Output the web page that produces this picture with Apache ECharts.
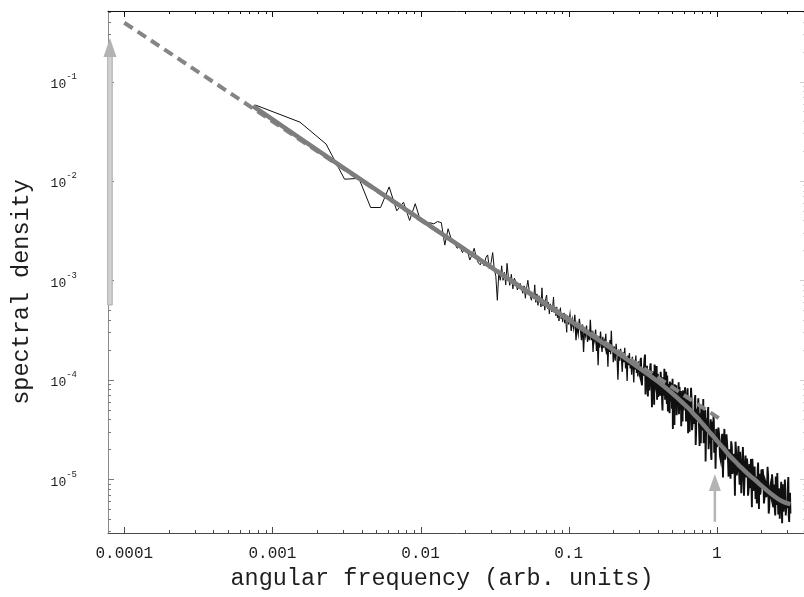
<!DOCTYPE html>
<html>
<head>
<meta charset="utf-8">
<script src="https://cdn.jsdelivr.net/npm/echarts@6/dist/echarts.min.js"></script>
<style>
  html, body { margin: 0; padding: 0; background: #fff; }
  #chart { width: 804px; height: 597px; }
</style>
</head>
<body>
<div id="chart"></div>
<script>
// Periodogram: angular frequency vs spectral density, log-log.

// Axis ticks and labels
const xMajorTicks = [0.0001, 0.001, 0.01, 0.1, 1];
const xTickLabels = ['0.0001', '0.001', '0.01', '0.1', '1'];
const xMinorTicks = [
  0.0002, 0.0003, 0.0004, 0.0005, 0.0006, 0.0007, 0.0008, 0.0009,
  0.002, 0.003, 0.004, 0.005, 0.006, 0.007, 0.008, 0.009,
  0.02, 0.03, 0.04, 0.05, 0.06, 0.07, 0.08, 0.09,
  0.2, 0.3, 0.4, 0.5, 0.6, 0.7, 0.8, 0.9,
  2, 3
];
const yMajorTicks = [0.1, 0.01, 0.001, 0.0001, 0.00001];
const yTickExponents = ['-1', '-2', '-3', '-4', '-5'];
const yMinorTicks = [
  0.5, 0.4, 0.3, 0.2,
  0.09, 0.08, 0.07, 0.06, 0.05, 0.04, 0.03, 0.02,
  0.009, 0.008, 0.007, 0.006, 0.005, 0.004, 0.003, 0.002,
  0.0009, 0.0008, 0.0007, 0.0006, 0.0005, 0.0004, 0.0003, 0.0002,
  0.00009, 0.00008, 0.00007, 0.00006, 0.00005, 0.00004, 0.00003, 0.00002,
  0.000009, 0.000008, 0.000007, 0.000006, 0.000005, 0.000004, 0.000003
];
const xRange = [7.76e-5, 4];
const yRange = [2.87e-6, 0.512];

// Measured periodogram [omega, density]: lowest bins
const spectrumLow = [
  [0.000767,0.058],[0.001534,0.039],[0.002301,0.0235],[0.003068,0.0104],[0.003835,0.0106],
  [0.004602,0.0054],[0.005369,0.0054],[0.006136,0.0087],[0.006903,0.0050],[0.00767,0.0061],
  [0.008437,0.0040],[0.009204,0.0059],[0.009971,0.0040],[0.010738,0.0037],[0.011505,0.0038],
  [0.012272,0.0037],[0.013039,0.0039],[0.013806,0.0038],[0.014573,0.00226],[0.01534,0.0033],
  [0.016107,0.0026],[0.016874,0.0024],[0.017641,0.0021],[0.018408,0.0022],[0.019175,0.0019],
  [0.019942,0.0021],[0.020709,0.0020],[0.021476,0.0016],[0.022243,0.0018],[0.02301,0.0021],
  [0.023777,0.0017],[0.024544,0.0015],[0.025311,0.00143],[0.026078,0.0016],[0.026845,0.0014],
  [0.027612,0.0017],[0.028379,0.0018],[0.029146,0.0013],[0.029913,0.0015],[0.03068,0.0019],
  [0.031447,0.0013],[0.032214,0.0011],[0.032981,0.00063],[0.033748,0.0012],[0.034515,0.0010],
  [0.035282,0.0014],[0.036049,0.0010],[0.036816,0.0012],[0.037583,0.0009],[0.03835,0.00148],
  [0.039117,0.0011]
];

// Measured periodogram: middle band
const spectrumMid = [
  [0.040,8.9e-4],[0.041,1.15e-3],[0.042,8.2e-4],[0.043,1.05e-3],[0.044,9.6e-4],[0.045,8.0e-4],
  [0.046,7.7e-4],[0.047,9.3e-4],[0.048,9.4e-4],[0.049,7.4e-4],[0.050,8.8e-4],[0.051,6.6e-4],
  [0.052,8.4e-4],[0.053,1.0e-3],[0.054,8.1e-4],[0.055,7.0e-4],[0.056,6.3e-4],[0.057,7.6e-4],
  [0.058,6.5e-4],[0.059,9.0e-4],[0.060,6.0e-4],[0.061,7.3e-4],[0.062,5.6e-4],[0.063,7.0e-4],
  [0.064,6.6e-4],[0.065,5.4e-4],[0.066,8.4e-4],[0.067,5.5e-4],[0.068,6.3e-4],[0.069,5.0e-4],
  [0.070,6.6e-4],[0.071,7.1e-4],[0.072,5.2e-4],[0.073,6.0e-4],[0.074,4.6e-4],[0.075,5.8e-4],
  [0.076,5.6e-4],[0.077,4.8e-4],[0.078,5.5e-4],[0.079,6.8e-4],[0.080,4.7e-4],[0.081,5.4e-4],
  [0.082,4.4e-4],[0.083,5.4e-4],[0.084,4.2e-4],[0.085,5.0e-4],[0.086,3.9e-4],[0.087,4.9e-4],
  [0.088,5.3e-4],[0.089,4.1e-4],[0.090,4.6e-4],[0.091,3.8e-4],[0.092,4.3e-4],[0.093,4.7e-4],
  [0.094,3.7e-4],[0.095,4.5e-4],[0.096,3.6e-4],[0.097,3.0e-4],[0.098,4.4e-4],[0.099,4.0e-4],
  [0.100,3.6e-4],
  [0.102,4.5e-4],[0.104,3.1e-4],[0.106,4.0e-4],[0.108,3.3e-4],[0.110,4.5e-4],[0.112,2.5e-4],
  [0.114,3.5e-4],[0.116,2.9e-4],[0.118,4.1e-4],[0.120,3.2e-4],[0.122,2.5e-4],[0.124,3.6e-4],
  [0.126,1.9e-4],[0.128,3.3e-4],[0.130,2.8e-4],[0.132,3.5e-4],[0.134,2.4e-4],[0.136,2.9e-4],
  [0.138,2.5e-4],[0.140,4.0e-4],[0.142,2.5e-4],[0.144,3.1e-4],[0.146,1.9e-4],[0.148,2.8e-4],
  [0.150,2.5e-4],[0.152,3.2e-4],[0.154,1.95e-4],[0.156,2.6e-4],[0.158,1.4e-4],[0.160,2.75e-4],
  [0.162,2.1e-4],[0.164,3.05e-4],[0.166,2.3e-4],[0.168,1.9e-4],[0.170,2.7e-4],[0.172,2.1e-4],
  [0.174,2.4e-4],[0.176,2.15e-4],[0.178,2.9e-4],[0.180,1.8e-4],[0.182,2.2e-4],[0.184,1.35e-4],
  [0.186,2.35e-4],[0.188,1.9e-4],[0.190,2.5e-4],[0.192,1.8e-4],[0.194,3.1e-4],[0.196,1.95e-4],
  [0.198,2.2e-4],[0.200,1.5e-4],
  [0.203,2.15e-4],[0.206,1.55e-4],[0.209,2.3e-4],[0.212,1.7e-4],[0.215,1.0e-4],[0.218,1.9e-4],
  [0.221,1.55e-4],[0.224,2.05e-4],[0.227,1.65e-4],[0.230,1.2e-4],[0.233,1.9e-4],[0.236,1.5e-4],
  [0.239,2.1e-4],[0.242,1.3e-4],[0.245,1.6e-4],[0.248,9.7e-5],[0.251,1.75e-4],[0.254,1.4e-4],
  [0.257,1.85e-4],[0.260,1.3e-4],[0.263,1.6e-4],[0.266,1.12e-4],[0.269,1.7e-4],[0.272,1.4e-4],
  [0.275,9.4e-5],[0.278,1.57e-4],[0.281,1.27e-4],[0.284,1.75e-4],[0.287,1.17e-4],[0.290,1.36e-4],
  [0.293,1.08e-4],[0.296,1.53e-4],[0.299,1.18e-4]
];

// Measured periodogram: upper band
const spectrumHigh = [
  [0.305,1.55e-4],[0.310,9.5e-5],[0.315,1.3e-4],[0.320,1.1e-4],[0.325,1.62e-4],[0.330,7.1e-5],
  [0.335,1.28e-4],[0.340,9.7e-5],[0.345,1.13e-4],[0.350,7.8e-5],[0.355,1.36e-4],[0.360,1.03e-4],
  [0.365,5.3e-5],[0.370,1.2e-4],[0.375,8.2e-5],[0.380,1.42e-4],[0.385,9.0e-5],[0.390,1.04e-4],
  [0.395,6.3e-5],[0.400,1.15e-4],[0.405,8.1e-5],[0.410,9.4e-5],[0.415,6.9e-5],[0.420,1.18e-4],
  [0.425,8.6e-5],[0.430,4.9e-5],[0.435,9.6e-5],[0.440,6.9e-5],[0.445,1.02e-4],[0.450,7.6e-5],
  [0.455,1.2e-4],[0.460,5.7e-5],[0.465,8.1e-5],[0.470,6.8e-5],[0.475,9.0e-5],[0.480,4.6e-5],
  [0.485,8.0e-5],[0.490,6.75e-5],[0.495,9.3e-5],[0.500,5.5e-5],[0.505,3.2e-5],[0.510,7.8e-5],
  [0.515,6.7e-5],[0.520,9.0e-5],[0.525,5.5e-5],[0.530,6.8e-5],[0.535,4.4e-5],[0.540,7.9e-5],
  [0.545,5.9e-5],[0.550,6.8e-5],[0.555,4.5e-5],[0.560,8.5e-5],[0.565,5.3e-5],[0.570,6.8e-5],
  [0.575,3.4e-5],[0.580,6.0e-5],[0.585,4.7e-5],[0.590,7.3e-5],[0.595,5.2e-5],[0.600,6.6e-5],
  [0.61,8.4e-5],[0.62,3.8e-5],[0.63,5.9e-5],[0.64,2.9e-5],[0.65,6.6e-5],[0.66,4.5e-5],
  [0.67,8.3e-5],[0.68,3.1e-5],[0.69,4.6e-5],[0.70,3.6e-5],[0.71,6.4e-5],[0.72,2.2e-5],
  [0.73,5.1e-5],[0.74,3.9e-5],[0.75,6.5e-5],[0.76,3.0e-5],[0.77,4.1e-5],[0.78,2.3e-5],
  [0.79,5.0e-5],[0.80,3.1e-5],[0.81,6.4e-5],[0.82,2.4e-5],[0.83,3.9e-5],[0.84,1.5e-5],
  [0.85,4.1e-5],[0.86,2.9e-5],[0.87,4.8e-5],[0.88,2.0e-5],[0.89,3.0e-5],[0.90,2.3e-5],
  [0.91,4.0e-5],[0.92,1.56e-5],[0.93,3.3e-5],[0.94,2.6e-5],[0.95,4.4e-5],[0.96,1.84e-5],
  [0.97,2.8e-5],[0.98,1.27e-5],[0.99,3.2e-5],[1.00,2.1e-5],
  [1.025,3.3e-5],[1.050,1.7e-5],[1.075,2.4e-5],[1.100,1.04e-5],[1.125,3.2e-5],[1.150,1.73e-5],
  [1.175,2.2e-5],[1.200,1.06e-5],[1.225,1.71e-5],[1.250,2.4e-5],[1.275,1.13e-5],[1.300,1.8e-5],
  [1.325,6.8e-6],[1.350,1.91e-5],[1.375,1.22e-5],[1.400,2.15e-5],[1.425,8.8e-6],[1.450,1.39e-5],
  [1.475,1.03e-5],[1.500,2.1e-5],[1.525,6.8e-6],[1.550,1.44e-5],[1.575,1.12e-5],[1.600,1.61e-5],
  [1.625,6.8e-6],[1.650,1.21e-5],[1.675,8.1e-6],[1.700,1.59e-5],[1.725,5.2e-6],[1.750,1.28e-5],
  [1.775,9.0e-6],[1.800,1.34e-5],[1.825,6.3e-6],[1.850,9.6e-6],[1.875,7.5e-6],[1.900,1.47e-5],
  [1.925,5.0e-6],[1.950,1.02e-5],[1.975,7.4e-6],[2.000,1.25e-5],
  [2.04,1.26e-5],[2.08,5.7e-6],[2.12,9.6e-6],[2.16,6.6e-6],[2.20,1.33e-5],[2.24,4.5e-6],
  [2.28,8.0e-6],[2.32,6.8e-6],[2.36,1.12e-5],[2.40,5.2e-6],[2.44,8.8e-6],[2.48,4.3e-6],
  [2.52,6.6e-6],[2.56,1.15e-5],[2.60,4.4e-6],[2.64,7.1e-6],[2.68,5.5e-6],[2.72,9.4e-6],
  [2.76,3.6e-6],[2.80,7.4e-6],[2.84,4.7e-6],[2.88,9.9e-6],[2.92,4.3e-6],[2.96,6.0e-6],
  [3.00,5.1e-6],[3.04,1.05e-5],[3.08,3.7e-6],[3.12,7.3e-6],[3.14,4.5e-6]
];

// Measured periodogram: upper band, bins lying between the ones above
const spectrumHighFill = [
  [0.3025,1.1e-4],[0.3075,1.66e-4],[0.3125,8.8e-5],[0.3175,1.35e-4],[0.3225,1.15e-4],[0.3275,1.79e-4],
  [0.3325,9.4e-5],[0.3375,1.38e-4],[0.3425,6.8e-5],[0.3475,1.18e-4],[0.3525,9.9e-5],[0.3575,1.46e-4],
  [0.3625,8.0e-5],[0.3675,1.21e-4],[0.3725,1.04e-4],[0.3775,5.6e-5],[0.3825,1.26e-4],[0.3875,8.5e-5],
  [0.3925,1.37e-4],[0.3975,9.2e-5],[0.4025,6.7e-5],[0.4075,1.03e-4],[0.4125,7.4e-5],[0.4175,1.2e-4],
  [0.4225,9.1e-5],[0.4275,5.8e-5],[0.4325,1.06e-4],[0.4375,7.8e-5],[0.4425,1.29e-4],[0.4475,6.3e-5],
  [0.4525,8.8e-5],[0.4575,7.0e-5],[0.4625,1.1e-4],[0.4675,4.8e-5],[0.4725,9.1e-5],[0.4775,7.4e-5],
  [0.4825,9.6e-5],[0.4875,6.0e-5],[0.4925,8.2e-5],[0.4975,5.1e-5],[0.5025,1.02e-4],[0.5075,6.4e-5],
  [0.5125,7.1e-5],[0.5175,3.5e-5],[0.5225,8.3e-5],[0.5275,5.8e-5],[0.5325,8.8e-5],[0.5375,5.0e-5],
  [0.5425,7.3e-5],[0.5475,6.2e-5],[0.5525,9.4e-5],[0.5575,4.4e-5],[0.5625,6.6e-5],[0.5675,5.0e-5],
  [0.5725,7.7e-5],[0.5775,5.4e-5],[0.5825,6.8e-5],[0.5875,3.8e-5],[0.5925,7.8e-5],[0.5975,4.9e-5],
  [0.605,5.6e-5],[0.615,6.9e-5],[0.625,4.3e-5],[0.635,8.2e-5],[0.645,4.6e-5],[0.655,3.0e-5],
  [0.665,5.7e-5],[0.675,6.5e-5],[0.685,3.5e-5],[0.695,4.8e-5],[0.705,4.2e-5],[0.715,7.0e-5],
  [0.725,3.0e-5],[0.735,3.8e-5],[0.745,5.3e-5],[0.755,4.4e-5],[0.765,2.15e-5],[0.775,4.6e-5],
  [0.785,5.4e-5],[0.795,3.1e-5],[0.805,3.6e-5],[0.815,2.3e-5],[0.825,4.4e-5],[0.835,5.0e-5],
  [0.845,2.6e-5],[0.855,3.5e-5],[0.865,3.0e-5],[0.875,5.3e-5],[0.885,2.3e-5],[0.895,3.1e-5],
  [0.905,3.5e-5],[0.915,1.7e-5],[0.925,3.8e-5],[0.935,2.5e-5],[0.945,3.1e-5],[0.955,3.8e-5],
  [0.965,2.1e-5],[0.975,2.6e-5],[0.985,1.76e-5],[0.995,3.1e-5],
  [1.0125,2.16e-5],[1.0375,2.76e-5],[1.0625,1.55e-5],[1.0875,2.86e-5],[1.1125,2.04e-5],[1.1375,1.57e-5],
  [1.1625,2.82e-5],[1.1875,1.71e-5],[1.2125,2.0e-5],[1.2375,1.01e-5],[1.2625,2.12e-5],[1.2875,1.34e-5],
  [1.3125,1.62e-5],[1.3375,2.38e-5],[1.3625,1.09e-5],[1.3875,1.55e-5],[1.4125,1.23e-5],[1.4375,1.88e-5],
  [1.4625,7.2e-6],[1.4875,1.52e-5],[1.5125,1.24e-5],[1.5375,9.7e-6],[1.5625,1.73e-5],[1.5875,1.04e-5],
  [1.6125,1.31e-5],[1.6375,7.8e-6],[1.6625,1.42e-5],[1.6875,1.12e-5],[1.7125,8.9e-6],[1.7375,1.6e-5],
  [1.7625,7.6e-6],[1.7875,1.19e-5],[1.8125,9.3e-6],[1.8375,1.06e-5],[1.8625,5.7e-6],[1.8875,1.26e-5],
  [1.9125,8.2e-6],[1.9375,1.13e-5],[1.9625,7.0e-6],[1.9875,9.1e-6],
  [2.02,8.5e-6],[2.06,1.08e-5],[2.10,6.5e-6],[2.14,9.1e-6],[2.18,7.3e-6],[2.22,1.09e-5],
  [2.26,5.2e-6],[2.30,8.6e-6],[2.34,6.4e-6],[2.38,9.4e-6],[2.42,7.2e-6],[2.46,5.1e-6],
  [2.50,1.06e-5],[2.54,5.5e-6],[2.58,7.0e-6],[2.62,8.1e-6],[2.66,4.0e-6],[2.70,7.3e-6],
  [2.74,6.0e-6],[2.78,8.9e-6],[2.82,4.7e-6],[2.86,6.7e-6],[2.90,7.8e-6],[2.94,5.2e-6],
  [2.98,6.0e-6],[3.02,9.1e-6],[3.06,4.2e-6],[3.10,6.7e-6]
];

// Fitted model spectrum
const modelCurve = [
  [0.00074,0.0565],[0.003,0.0136],[0.01,0.0041],[0.03,0.00135],[0.1,4.0e-4],[0.2,2.0e-4],
  [0.3,1.31e-4],[0.4,9.6e-5],[0.5,7.3e-5],[0.6,5.7e-5],[0.65,5.1e-5],[0.7,4.5e-5],
  [0.75,4.05e-5],[0.8,3.6e-5],[0.85,3.25e-5],[0.9,2.93e-5],[0.95,2.68e-5],[1.0,2.44e-5],
  [1.1,2.08e-5],[1.2,1.77e-5],[1.3,1.56e-5],[1.4,1.39e-5],[1.5,1.26e-5],[1.6,1.15e-5],
  [1.7,1.06e-5],[1.8,9.9e-6],[2.0,8.6e-6],[2.3,7.2e-6],[2.6,6.3e-6],[2.9,5.8e-6],[3.14,5.6e-6]
];

// 1/omega power law
const powerLaw = [[0.0001,0.39],[1.03,4.1e-5]];

// Arrows marking frequencies: [omega, density at tail, density at tip]
const arrowMarks = [
  [8.0e-5, 5.65e-4, 0.274],
  [0.97, 3.72e-6, 1.125e-5]
];

const MONO = '"Liberation Mono", "Courier New", "DejaVu Sans Mono", monospace';
const arrowLook = [
  { shaft: 4.5, headW: 13, headH: 19, fill: '#d2d2d2', stroke: '#ababab', head: '#b3b3b3' },
  { shaft: 2.5, headW: 12, headH: 17, fill: '#b5b5b5', stroke: null, head: '#b3b3b3' }
];

function sameDecade(v, t) { return Math.abs(Math.log10(v / t)) < 1e-4; }

const chart = echarts.init(document.getElementById('chart'), null, { renderer: 'canvas' });

const xTickData = xMajorTicks.map(v => [v, 1e-3, 6]).concat(xMinorTicks.map(v => [v, 1e-3, 3]));
const yTickData = yMajorTicks.map(v => [1e-3, v, 6]).concat(yMinorTicks.map(v => [1e-3, v, 3]));

// Split the trace by density so the crowded upper band reads as a solid band
const sparsePart = spectrumLow.concat(spectrumMid.filter(p => p[0] < 0.1));
const midPart = spectrumMid.filter(p => p[0] >= 0.1);
const densePart = [midPart[midPart.length - 1]]
  .concat(spectrumHigh, spectrumHighFill)
  .sort((a, b) => a[0] - b[0]);

function traceSeries(name, data, width, z) {
  return {
    name: name, type: 'line', data: data, showSymbol: false, symbol: 'none',
    z: z, silent: true, sampling: null,
    lineStyle: { color: '#101010', width: width, join: 'miter' }
  };
}

const option = {
  animation: false,
  backgroundColor: '#ffffff',
  grid: { left: 108, top: 11, right: -2, bottom: 64, outerBoundsMode: 'none', containLabel: false },
  xAxis: [
    {
      type: 'log', logBase: 10, min: xRange[0], max: xRange[1], position: 'bottom',
      axisLine: { show: true, lineStyle: { color: '#4a4a4a', width: 1 } },
      axisTick: { show: false }, minorTick: { show: false }, splitLine: { show: false },
      axisLabel: {
        interval: 0, margin: 13, fontFamily: MONO, fontSize: 16, color: '#1e1e1e',
        formatter: v => {
          const i = xMajorTicks.findIndex(t => sameDecade(v, t));
          return i >= 0 ? xTickLabels[i] : '';
        }
      },
      name: 'angular frequency (arb. units)', nameLocation: 'middle', nameGap: 34,
      nameTextStyle: { fontFamily: MONO, fontSize: 23.5, color: '#1e1e1e', padding: [0, 30, 0, 0] }
    },
    {
      type: 'log', logBase: 10, min: xRange[0], max: xRange[1], position: 'top',
      axisLine: { show: true, lineStyle: { color: '#111111', width: 1 } },
      axisTick: { show: false }, axisLabel: { show: false }, splitLine: { show: false }
    }
  ],
  yAxis: [
    {
      type: 'log', logBase: 10, min: yRange[0], max: yRange[1], position: 'left',
      axisLine: { show: true, lineStyle: { color: '#8a8a8a', width: 1 } },
      axisTick: { show: false }, minorTick: { show: false }, splitLine: { show: false },
      axisLabel: {
        interval: 0, margin: 31, fontFamily: MONO, color: '#1e1e1e',
        formatter: v => {
          const i = yMajorTicks.findIndex(t => sameDecade(v, t));
          return i >= 0 ? '{b|10}{s|' + yTickExponents[i] + '}' : '';
        },
        rich: {
          b: { fontFamily: MONO, fontSize: 13, color: '#1e1e1e', lineHeight: 19, verticalAlign: 'bottom' },
          s: { fontFamily: MONO, fontSize: 9, color: '#1e1e1e', lineHeight: 19, verticalAlign: 'top' }
        }
      },
      name: 'spectral density', nameLocation: 'middle', nameGap: 74,
      nameTextStyle: { fontFamily: MONO, fontSize: 23.5, color: '#1e1e1e', padding: [0, 40, 0, 0] }
    },
    {
      type: 'log', logBase: 10, min: yRange[0], max: yRange[1], position: 'right',
      axisLine: { show: false },
      axisTick: { show: false }, axisLabel: { show: false }, splitLine: { show: false }
    }
  ],
  series: [
    {
      name: 'ticks-x', type: 'custom', xAxisIndex: 0, yAxisIndex: 0, z: 1, silent: true,
      data: xTickData,
      renderItem: (params, api) => {
        const cs = params.coordSys;
        const px = Math.round(api.coord([api.value(0), api.value(1)])[0]) + 0.5;
        const len = api.value(2);
        const top = cs.y, bot = cs.y + cs.height;
        return {
          type: 'group', children: [
            { type: 'line', shape: { x1: px, y1: bot, x2: px, y2: bot - len }, style: { stroke: '#4a4a4a', lineWidth: 1 } },
            { type: 'line', shape: { x1: px, y1: top, x2: px, y2: top + len }, style: { stroke: '#111111', lineWidth: 1 } }
          ]
        };
      }
    },
    {
      name: 'ticks-y', type: 'custom', xAxisIndex: 0, yAxisIndex: 0, z: 1, silent: true,
      data: yTickData,
      renderItem: (params, api) => {
        const cs = params.coordSys;
        const py = Math.round(api.coord([api.value(0), api.value(1)])[1]) + 0.5;
        const len = api.value(2);
        const l = cs.x, r = cs.x + cs.width;
        return {
          type: 'group', children: [
            { type: 'line', shape: { x1: l, y1: py, x2: l + len, y2: py }, style: { stroke: '#7a7a7a', lineWidth: 1 } },
            { type: 'line', shape: { x1: r, y1: py, x2: r - len, y2: py }, style: { stroke: '#cfcfcf', lineWidth: 1 } }
          ]
        };
      }
    },
    traceSeries('periodogram', sparsePart.concat([midPart[0]]), 1, 2),
    traceSeries('periodogram', midPart, 1.3, 2),
    traceSeries('periodogram', densePart, 1.9, 2),
    {
      name: 'power law', type: 'line', data: powerLaw, showSymbol: false, symbol: 'none',
      z: 3, silent: true,
      lineStyle: { color: '#858585', width: 4, type: [10, 6], cap: 'butt' }
    },
    {
      name: 'model', type: 'line', data: modelCurve, showSymbol: false, symbol: 'none',
      z: 4, silent: true, smooth: 0.15,
      lineStyle: { color: '#7d7d7d', width: 4.5, cap: 'butt', join: 'round' }
    },
    {
      name: 'markers', type: 'custom', z: 5, silent: true, clip: false,
      data: arrowMarks,
      renderItem: (params, api) => {
        const look = arrowLook[params.dataIndex];
        const tail = api.coord([api.value(0), api.value(1)]);
        const tip = api.coord([api.value(0), api.value(2)]);
        const x = tip[0];
        const baseY = tip[1] + look.headH;
        const children = [
          {
            type: 'rect',
            shape: { x: x - look.shaft / 2, y: baseY - 1, width: look.shaft, height: tail[1] - baseY + 1 },
            style: look.stroke ? { fill: look.fill, stroke: look.stroke, lineWidth: 1 } : { fill: look.fill }
          },
          {
            type: 'polygon',
            shape: { points: [[x, tip[1]], [x - look.headW / 2, baseY], [x + look.headW / 2, baseY]] },
            style: { fill: look.head }
          }
        ];
        return { type: 'group', children: children };
      }
    }
  ]
};

chart.setOption(option);
</script>
</body>
</html>
